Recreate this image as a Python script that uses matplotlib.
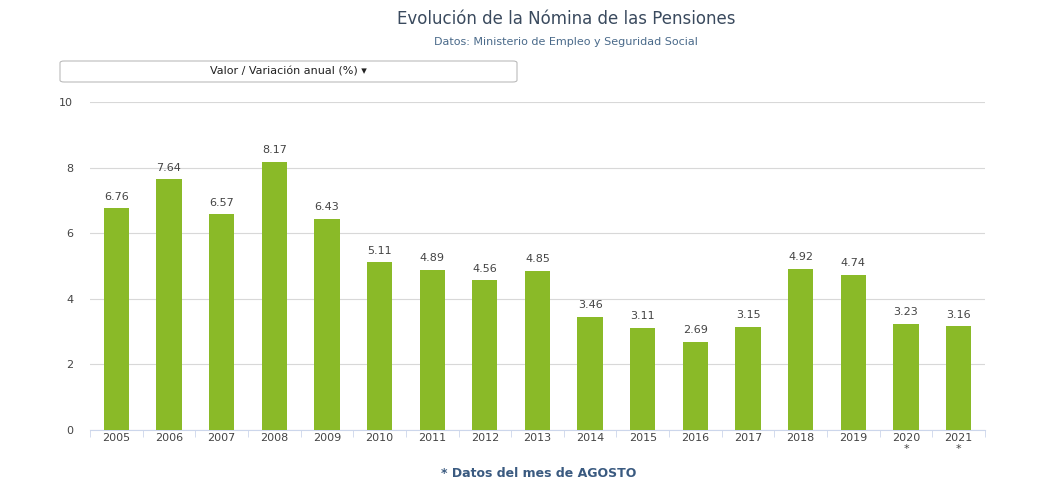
import matplotlib.pyplot as plt
from matplotlib.patches import FancyBboxPatch

years = ["2005", "2006", "2007", "2008", "2009", "2010", "2011", "2012", "2013",
         "2014", "2015", "2016", "2017", "2018", "2019", "2020\n*", "2021\n*"]
values = [6.76, 7.64, 6.57, 8.17, 6.43, 5.11, 4.89, 4.56, 4.85,
          3.46, 3.11, 2.69, 3.15, 4.92, 4.74, 3.23, 3.16]
yticks = [0, 2, 4, 6, 8, 10]

fig = plt.figure(figsize=(10.39, 4.9), dpi=100)
ax = fig.add_axes([0.0866, 0.1224, 0.8614, 0.6696])

x = range(len(values))
ax.bar(x, values, width=0.48, color="#8aba28", zorder=3)
for i, v in zip(x, values):
    ax.text(i, v + 0.2, f"{v:.2f}", ha="center", va="bottom", fontsize=8, color="#444444")

ax.set_xlim(-0.5, len(values) - 0.5)
ax.set_ylim(0, 10)
ax.set_yticks(yticks)
ax.set_xticks(list(x))
ax.set_xticklabels(years, fontsize=8, color="#444444", linespacing=1.1, va="top")
ax.tick_params(axis="y", labelsize=8, labelcolor="#444444", length=0, pad=12)
ax.tick_params(axis="x", length=5, color="#ccd6eb", pad=2)
ax.set_xticks([i - 0.5 for i in range(len(values) + 1)], minor=True)
ax.tick_params(axis="x", which="minor", length=5, color="#ccd6eb")
ax.tick_params(axis="x", which="major", length=0)
ax.grid(axis="y", color="#d8d8d8", linewidth=0.8, zorder=0)
for s in ["top", "right", "left"]:
    ax.spines[s].set_visible(False)
ax.spines["bottom"].set_color("#ccd6eb")

fig.text(0.545, 0.962, "Evolución de la Nómina de las Pensiones", ha="center", va="center",
         fontsize=12, color="#3a4a5e")
fig.text(0.545, 0.915, "Datos: Ministerio de Empleo y Seguridad Social", ha="center", va="center",
         fontsize=8, color="#4a6a8a")

box = FancyBboxPatch((60 / 1039, 1 - 82 / 490), 457 / 1039, 21 / 490,
                     boxstyle="round,pad=0,rounding_size=0.004", transform=fig.transFigure,
                     facecolor="white", edgecolor="#bbbbbb", linewidth=0.8)
fig.add_artist(box)
fig.text(288 / 1039, 1 - 72 / 490, "Valor / Variación anual (%) \u25be", ha="center", va="center",
         fontsize=8, color="#222222")

fig.text(0.518, 0.033, "* Datos del mes de AGOSTO", ha="center", va="center",
         fontsize=9, color="#3a5a80", fontweight="bold")

fig.savefig("out.png", dpi=100)
